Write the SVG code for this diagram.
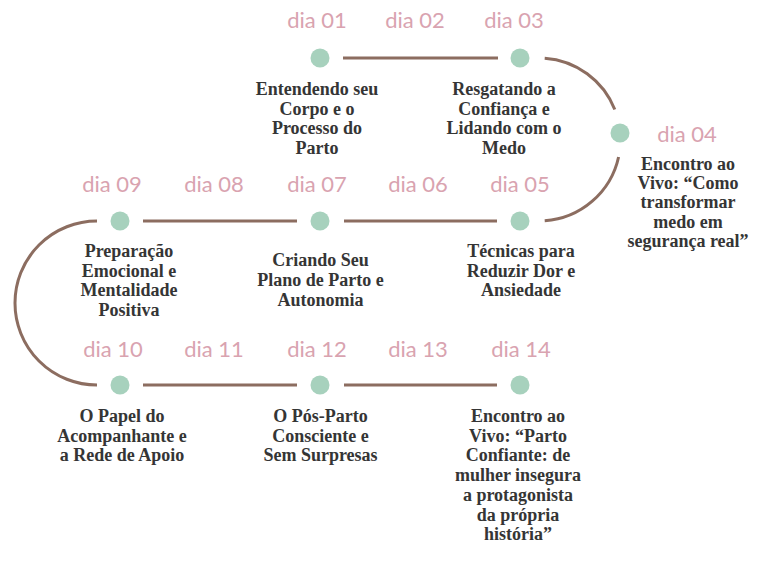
<svg xmlns="http://www.w3.org/2000/svg" width="768" height="567" viewBox="0 0 768 567">
<style>
.bg{fill:#ffffff}
.day{font-family:Lato,"Open Sans",sans-serif;font-size:22px;fill:#d9a3b0;text-anchor:middle}
.ttl{font-family:"Liberation Serif","Times New Roman",serif;font-weight:bold;font-size:18px;fill:#353535;text-anchor:middle}
.dot{fill:#a7d1bd}
.conn{fill:none;stroke:#8c6d60;stroke-width:3}
</style>
<rect class="bg" x="0" y="0" width="768" height="567"/>
<g id="connectors">
<line class="conn" x1="343" y1="58" x2="498" y2="58"/>
<path class="conn" d="M544.7,58.2 A81.5,81.5 0 0 1 614.8,109.5"/>
<path class="conn" d="M618.6,157 A81.5,81.5 0 0 1 544.7,220.8"/>
<line class="conn" x1="344" y1="221" x2="497" y2="221"/>
<line class="conn" x1="143" y1="221" x2="297" y2="221"/>
<path class="conn" d="M97,221 A82,82 0 0 0 97,385"/>
<line class="conn" x1="143" y1="385" x2="297" y2="385"/>
<line class="conn" x1="344" y1="385" x2="497" y2="385"/>
</g>
<g id="n01">
<circle class="dot" cx="320" cy="58" r="9.5"/>
<text class="day" x="317" y="28">dia 01</text>
<text class="ttl" y="95"><tspan x="317">Entendendo seu</tspan><tspan x="317" dy="19.7">Corpo e o</tspan><tspan x="317" dy="19.7">Processo do</tspan><tspan x="317" dy="19.7">Parto</tspan></text>
</g>
<g id="n02"><text class="day" x="415" y="28">dia 02</text></g>
<g id="n03">
<circle class="dot" cx="520" cy="58" r="9.5"/>
<text class="day" x="514" y="28">dia 03</text>
<text class="ttl" y="95"><tspan x="504">Resgatando a</tspan><tspan x="504" dy="19.7">Confiança e</tspan><tspan x="504" dy="19.7">Lidando com o</tspan><tspan x="504" dy="19.7">Medo</tspan></text>
</g>
<g id="n04">
<circle class="dot" cx="620" cy="133" r="9.5"/>
<text class="day" x="687" y="142">dia 04</text>
<text class="ttl" y="170"><tspan x="688">Encontro ao</tspan><tspan x="688" dy="19.2">Vivo: “Como</tspan><tspan x="688" dy="19.2">transformar</tspan><tspan x="688" dy="19.2">medo em</tspan><tspan x="688" dy="19.2">segurança real”</tspan></text>
</g>
<g id="n05">
<circle class="dot" cx="520" cy="221" r="9.5"/>
<text class="day" x="520" y="192">dia 05</text>
<text class="ttl" y="257"><tspan x="521">Técnicas para</tspan><tspan x="521" dy="19.6">Reduzir Dor e</tspan><tspan x="521" dy="19.6">Ansiedade</tspan></text>
</g>
<g id="n06"><text class="day" x="418" y="192">dia 06</text></g>
<g id="n07">
<circle class="dot" cx="320" cy="221" r="9.5"/>
<text class="day" x="317" y="192">dia 07</text>
<text class="ttl" y="266"><tspan x="320.5">Criando Seu</tspan><tspan x="320.5" dy="19.8">Plano de Parto e</tspan><tspan x="320.5" dy="19.8">Autonomia</tspan></text>
</g>
<g id="n08"><text class="day" x="214" y="192">dia 08</text></g>
<g id="n09">
<circle class="dot" cx="120" cy="221" r="9.5"/>
<text class="day" x="112" y="192">dia 09</text>
<text class="ttl" y="257"><tspan x="129">Preparação</tspan><tspan x="129" dy="19.7">Emocional e</tspan><tspan x="129" dy="19.7">Mentalidade</tspan><tspan x="129" dy="19.7">Positiva</tspan></text>
</g>
<g id="n10">
<circle class="dot" cx="120" cy="385" r="9.5"/>
<text class="day" x="113" y="357">dia 10</text>
<text class="ttl" y="422"><tspan x="122">O Papel do</tspan><tspan x="122" dy="19.6">Acompanhante e</tspan><tspan x="122" dy="19.6">a Rede de Apoio</tspan></text>
</g>
<g id="n11"><text class="day" x="214" y="357">dia 11</text></g>
<g id="n12">
<circle class="dot" cx="320" cy="385" r="9.5"/>
<text class="day" x="317" y="357">dia 12</text>
<text class="ttl" y="422"><tspan x="320.5">O Pós-Parto</tspan><tspan x="320.5" dy="19.6">Consciente e</tspan><tspan x="320.5" dy="19.6">Sem Surpresas</tspan></text>
</g>
<g id="n13"><text class="day" x="418" y="357">dia 13</text></g>
<g id="n14">
<circle class="dot" cx="520" cy="385" r="9.5"/>
<text class="day" x="521" y="357">dia 14</text>
<text class="ttl" y="422"><tspan x="518">Encontro ao</tspan><tspan x="518" dy="19.7">Vivo: “Parto</tspan><tspan x="518" dy="19.7">Confiante: de</tspan><tspan x="518" dy="19.7">mulher insegura</tspan><tspan x="518" dy="19.7">a protagonista</tspan><tspan x="518" dy="19.7">da própria</tspan><tspan x="518" dy="19.7">história”</tspan></text>
</g>
</svg>
